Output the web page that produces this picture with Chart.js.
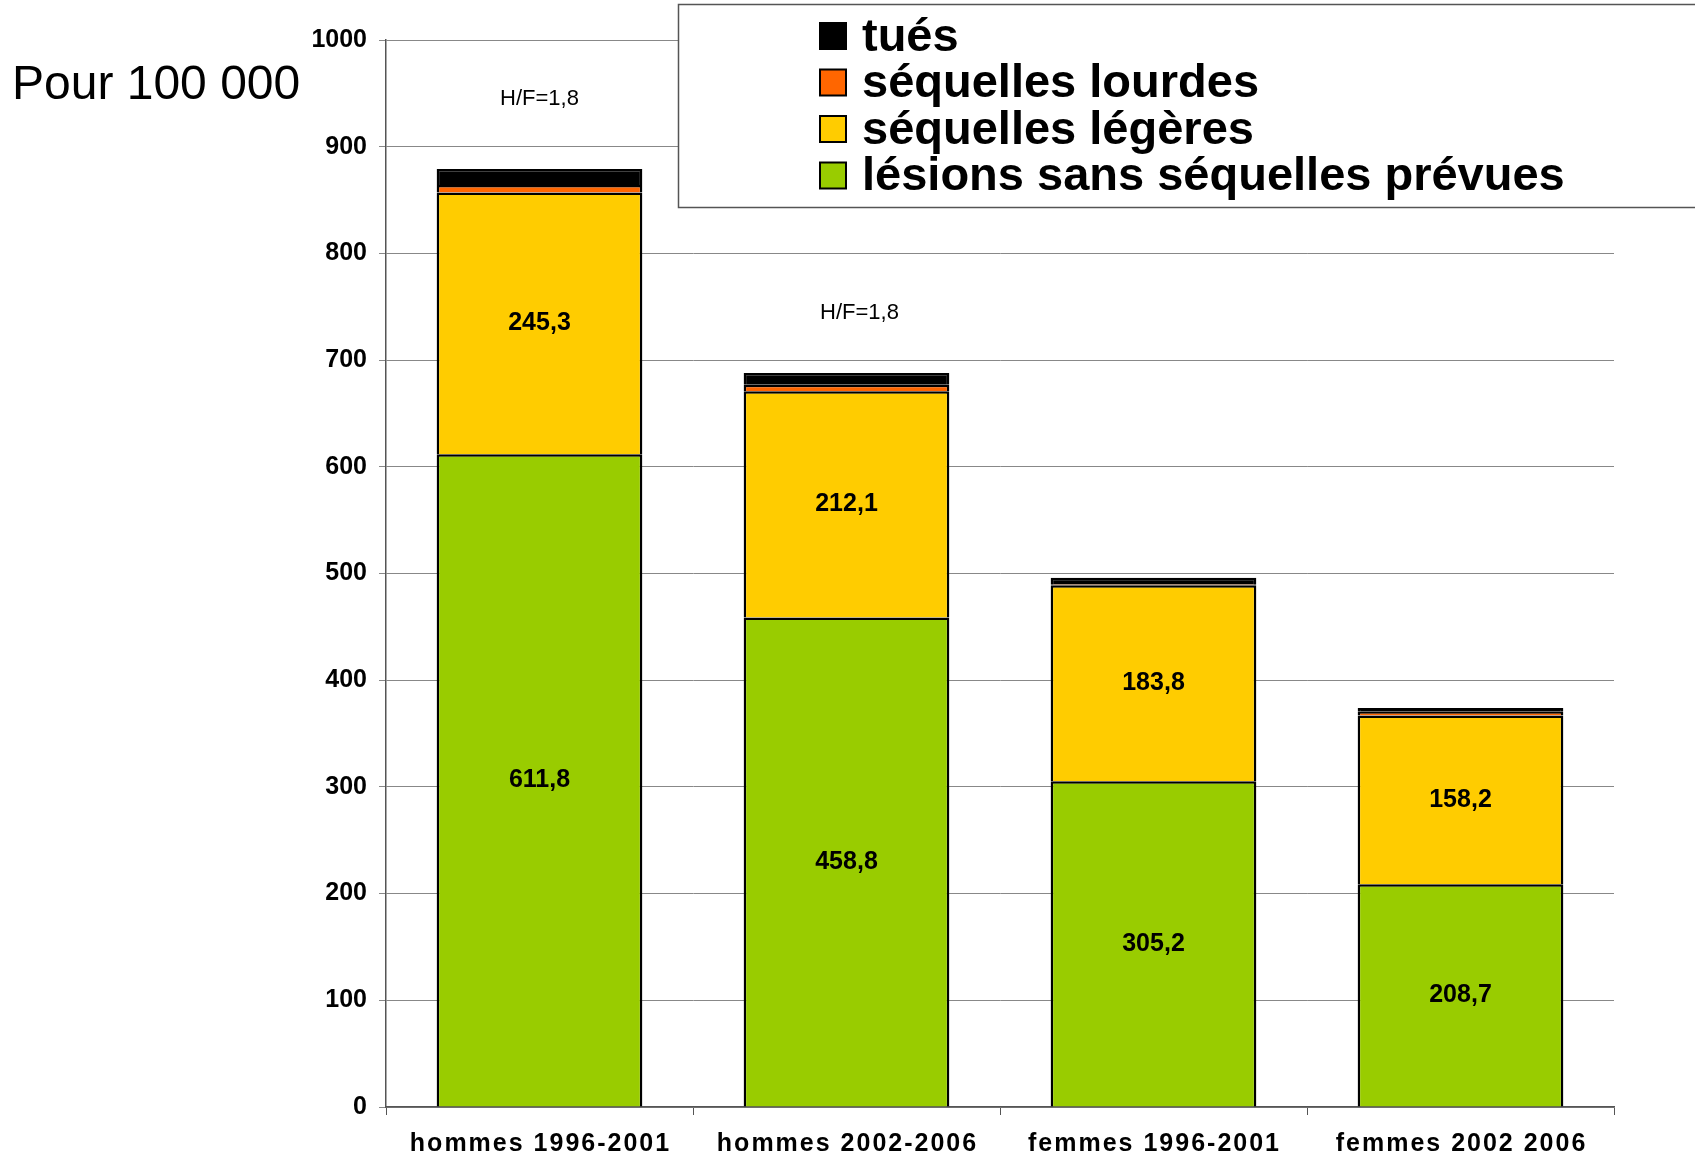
<!DOCTYPE html>
<html>
<head>
<meta charset="utf-8">
<script src="https://cdn.jsdelivr.net/npm/chart.js@4/dist/chart.umd.min.js"></script>
<style>
  html, body { margin: 0; padding: 0; background: #fff; }
  #wrap { position: relative; width: 1695px; height: 1157px; }
</style>
</head>
<body>
<div id="wrap"><canvas id="barChart" width="1695" height="1157"></canvas></div>
<script>
// data
const categories = ['hommes 1996-2001', 'hommes 2002-2006', 'femmes 1996-2001', 'femmes 2002 2006'];
const lesions = [611.8, 458.8, 305.2, 208.7];
const legeres = [245.3, 212.1, 183.8, 158.2];
const lourdes = [7, 6, 1, 3.5];
const tues = [15, 11, 6, 3.5];
const ratioText = ['H/F=1,8', 'H/F=1,8'];
const ratioIndex = [0, 1];
const ratioValue = [945, 744];

const FONT = '"Liberation Sans", Arial, sans-serif';

// value labels inside the two big segments, category labels, H/F notes
const valueLabels = {
  id: 'valueLabels',
  afterDatasetsDraw(chart) {
    const ctx = chart.ctx;
    ctx.save();
    ctx.font = 'bold 25px ' + FONT;
    ctx.fillStyle = '#000';
    ctx.textAlign = 'center';
    ctx.textBaseline = 'middle';
    [0, 1].forEach(di => {
      chart.getDatasetMeta(di).data.forEach((bar, i) => {
        const v = chart.data.datasets[di].data[i];
        const mid = (bar.y + bar.base) / 2;
        ctx.fillText(v.toFixed(1).replace('.', ','), bar.x, mid);
      });
    });
    const xs = chart.scales.x, ys = chart.scales.y;
    // category labels (spaced out like the original)
    ctx.letterSpacing = '2px';
    categories.forEach((c, i) => {
      ctx.fillText(c, xs.getPixelForValue(i) + 1, xs.bottom - 13);
    });
    ctx.letterSpacing = '0px';
    // H/F ratio notes
    ctx.font = '22px ' + FONT;
    ratioText.forEach((t, k) => {
      const x = xs.getPixelForValue(ratioIndex[k]) + (k === 1 ? 13 : 0);
      ctx.fillText(t, x, ys.getPixelForValue(ratioValue[k]));
    });
    ctx.restore();
  }
};

// boxed legend on top right + unit label
const boxLegend = {
  id: 'boxLegend',
  afterDraw(chart) {
    const ctx = chart.ctx;
    ctx.save();
    ctx.fillStyle = '#fff';
    ctx.fillRect(678, 4, 1100, 203);
    ctx.strokeStyle = '#555';
    ctx.lineWidth = 1.5;
    ctx.strokeRect(678.5, 4.5, 1100, 203);
    const ds = chart.data.datasets.slice().reverse();
    ctx.font = 'bold 47px ' + FONT;
    ctx.textBaseline = 'middle';
    ds.forEach((d, i) => {
      const y = 36 + i * 46.5;
      ctx.fillStyle = d.backgroundColor;
      ctx.fillRect(820, y - 13, 26, 26);
      ctx.strokeStyle = '#000';
      ctx.lineWidth = 2;
      ctx.strokeRect(820, y - 13, 26, 26);
      ctx.fillStyle = '#000';
      ctx.fillText(d.label, 862, y + 2);
    });
    ctx.font = '48px ' + FONT;
    ctx.fillText('Pour 100 000', 12, 86);
    ctx.restore();
  }
};

const mk = (label, data, color) => ({
  label, data,
  backgroundColor: color,
  borderColor: '#000',
  borderWidth: 2.5,
  borderSkipped: 'start',
  categoryPercentage: 1,
  barPercentage: 0.67
});

new Chart(document.getElementById('barChart'), {
  type: 'bar',
  data: {
    labels: categories,
    datasets: [
      mk('lésions sans séquelles prévues', lesions, '#99CC00'),
      mk('séquelles légères', legeres, '#FFCC00'),
      mk('séquelles lourdes', lourdes, '#FF6600'),
      mk('tués', tues, '#000000')
    ]
  },
  options: {
    responsive: false,
    animation: false,
    layout: { padding: { top: 40, right: 81, bottom: 0, left: 0 } },
    plugins: { legend: { display: false }, tooltip: { enabled: false } },
    scales: {
      x: {
        stacked: true,
        afterFit: s => { s.height = 50; },
        grid: { offset: true, drawOnChartArea: false, tickLength: 8, color: '#555' },
        border: { color: '#555', width: 1.5 },
        ticks: { display: false }
      },
      y: {
        stacked: true,
        min: 0, max: 1000,
        afterFit: s => { s.width = 386; },
        grid: { color: '#888', lineWidth: 1, tickLength: 7 },
        border: { color: '#555', width: 1.5 },
        ticks: {
          stepSize: 100, color: '#000', padding: 12,
          font: { family: FONT, size: 25, weight: 'bold' },
          callback: v => String(v)
        }
      }
    }
  },
  plugins: [valueLabels, boxLegend]
});
</script>
</body>
</html>
